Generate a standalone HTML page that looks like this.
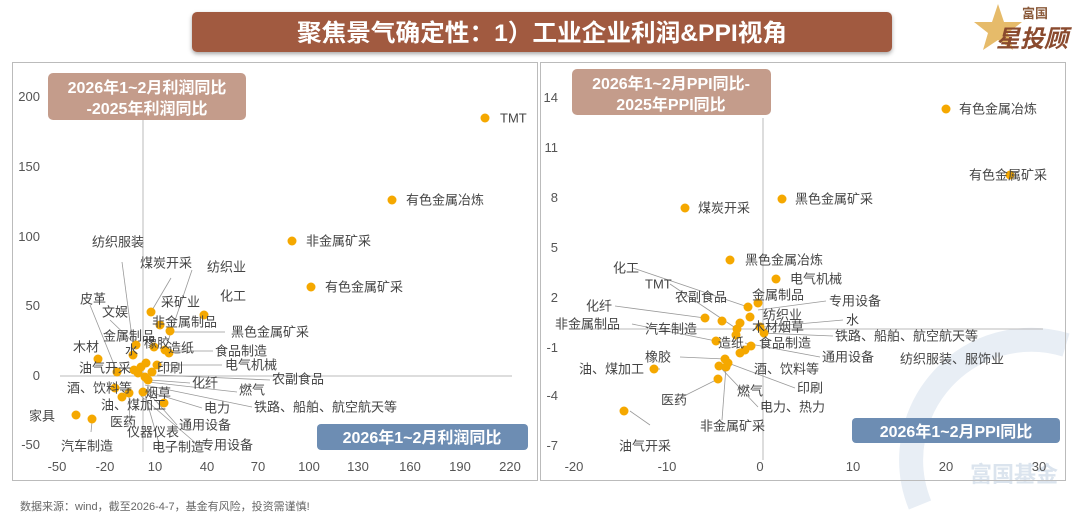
<!DOCTYPE html>
<html><head><meta charset="utf-8"><style>
html,body{margin:0;padding:0;background:#fff;width:1080px;height:517px;overflow:hidden;font-family:"Liberation Sans","Noto Sans CJK SC",sans-serif}
svg{display:block}
</style></head><body>
<svg width="1080" height="517" viewBox="0 0 1080 517" xmlns="http://www.w3.org/2000/svg" font-family="Liberation Sans, Noto Sans CJK SC, sans-serif" overflow="hidden">
<defs><filter id="sh" x="-5%" y="-20%" width="110%" height="160%"><feDropShadow dx="0" dy="2" stdDeviation="2" flood-color="#000" flood-opacity="0.35"/></filter></defs>
<rect x="192" y="12" width="700" height="40" rx="5" fill="#a15a40" filter="url(#sh)"/>
<text x="542" y="41" text-anchor="middle" font-size="24" font-weight="bold" fill="#fff" textLength="490" lengthAdjust="spacingAndGlyphs">聚焦景气确定性：1）工业企业利润&amp;PPI视角</text>
<polygon points="998,4 1004,22 1022,22 1008,33 1013,50 998,40 983,50 988,33 974,22 992,22" fill="#e3b45a" opacity="0.9"/>
<text x="1022" y="18" font-size="13" font-weight="bold" fill="#8a5a3a">富国</text>
<text x="996" y="47" font-size="24" font-weight="bold" fill="#8a4a2e" font-style="italic">星投顾</text>
<path d="M920,505 A120,120 0 0 1 1066,345" fill="none" stroke="#e8eef5" stroke-width="24"/>
<text x="970" y="482" font-size="22" font-weight="bold" fill="#dbe4ee">富国基金</text>
<rect x="12.5" y="62.5" width="525" height="418" fill="none" stroke="#bbb"/>
<rect x="540.5" y="62.5" width="525" height="418" fill="none" stroke="#bbb"/>
<g font-size="13" fill="#555">
<text x="40" y="101" text-anchor="end">200</text><text x="40" y="171" text-anchor="end">150</text>
<text x="40" y="241" text-anchor="end">100</text><text x="40" y="310" text-anchor="end">50</text>
<text x="40" y="380" text-anchor="end">0</text><text x="40" y="449" text-anchor="end">-50</text>
<g text-anchor="middle"><text x="57" y="471">-50</text><text x="105" y="471">-20</text><text x="155" y="471">10</text><text x="207" y="471">40</text><text x="258" y="471">70</text><text x="309" y="471">100</text><text x="358" y="471">130</text><text x="410" y="471">160</text><text x="460" y="471">190</text><text x="510" y="471">220</text></g>
<g text-anchor="end"><text x="558" y="102">14</text><text x="558" y="152">11</text><text x="558" y="202">8</text><text x="558" y="252">5</text><text x="558" y="302">2</text><text x="558" y="352">-1</text><text x="558" y="400">-4</text><text x="558" y="450">-7</text></g>
<g text-anchor="middle"><text x="574" y="471">-20</text><text x="667" y="471">-10</text><text x="760" y="471">0</text><text x="853" y="471">10</text><text x="946" y="471">20</text><text x="1039" y="471">30</text></g>
</g>
<g stroke="#bbb" stroke-width="1">
<line x1="143" y1="120" x2="143" y2="452"/><line x1="60" y1="376" x2="512" y2="376"/>
<line x1="763" y1="118" x2="763" y2="460"/><line x1="570" y1="329" x2="1043" y2="329"/>
</g>
<g stroke="#999" stroke-width="0.8" fill="none">
<path d="M122,262 L133,345"/><path d="M171,278 L151,312"/><path d="M192,270 L165,350"/><path d="M90,305 L117,372"/><path d="M110,320 L136,345"/>
<path d="M172,332 L225,332"/><path d="M175,351 L213,351"/><path d="M160,365 L222,365"/><path d="M157,375 L270,380"/><path d="M150,380 L190,383"/><path d="M148,382 L237,392"/>
<path d="M145,385 L252,407"/><path d="M143,390 L202,408"/><path d="M148,392 L177,425"/><path d="M145,395 L160,447"/><path d="M141,396 L198,445"/><path d="M92,422 L91,432"/><path d="M129,395 L130,425"/>
<path d="M633,268 L748,307"/><path d="M670,284 L737,329"/><path d="M615,306 L705,318"/><path d="M632,324 L716,341"/><path d="M680,357 L725,359"/><path d="M630,411 L650,425"/>
<path d="M826,301 L758,310"/><path d="M843,320 L764,327"/><path d="M833,336 L760,333"/><path d="M820,357 L745,343"/><path d="M795,388 L728,363"/><path d="M758,407 L719,366"/><path d="M676,400 L718,379"/><path d="M722,420 L726,367"/><path d="M660,369 L654,369"/>
</g>
<g fill="#f5a800">
<circle cx="485" cy="118" r="4.5"/><circle cx="392" cy="200" r="4.5"/><circle cx="292" cy="241" r="4.5"/><circle cx="311" cy="287" r="4.5"/>
<circle cx="151" cy="312" r="4.5"/><circle cx="204" cy="315" r="4.5"/><circle cx="160" cy="325" r="4.5"/><circle cx="170" cy="331" r="4.5"/><circle cx="136" cy="345" r="4.5"/><circle cx="133" cy="355" r="4.5"/><circle cx="154" cy="347" r="4.5"/><circle cx="165" cy="350" r="4.5"/><circle cx="169" cy="353" r="4.5"/><circle cx="98" cy="359" r="4.5"/><circle cx="117" cy="372" r="4.5"/><circle cx="141" cy="367" r="4.5"/><circle cx="146" cy="363" r="4.5"/><circle cx="157" cy="365" r="4.5"/><circle cx="138" cy="373" r="4.5"/><circle cx="145" cy="377" r="4.5"/><circle cx="148" cy="380" r="4.5"/><circle cx="134" cy="370" r="4.5"/><circle cx="152" cy="372" r="4.5"/><circle cx="115" cy="388" r="4.5"/><circle cx="122" cy="397" r="4.5"/><circle cx="129" cy="393" r="4.5"/><circle cx="143" cy="392" r="4.5"/><circle cx="164" cy="403" r="4.5"/><circle cx="76" cy="415" r="4.5"/><circle cx="92" cy="419" r="4.5"/>
<circle cx="946" cy="109" r="4.5"/><circle cx="1010" cy="175" r="4.5"/><circle cx="782" cy="199" r="4.5"/><circle cx="685" cy="208" r="4.5"/><circle cx="730" cy="260" r="4.5"/><circle cx="776" cy="279" r="4.5"/>
<circle cx="758" cy="303" r="4.5"/><circle cx="748" cy="307" r="4.5"/><circle cx="705" cy="318" r="4.5"/><circle cx="722" cy="321" r="4.5"/><circle cx="750" cy="317" r="4.5"/><circle cx="740" cy="323" r="4.5"/><circle cx="737" cy="329" r="4.5"/><circle cx="760" cy="327" r="4.5"/><circle cx="764" cy="333" r="4.5"/><circle cx="736" cy="335" r="4.5"/><circle cx="716" cy="341" r="4.5"/><circle cx="751" cy="346" r="4.5"/><circle cx="745" cy="350" r="4.5"/><circle cx="740" cy="353" r="4.5"/><circle cx="725" cy="359" r="4.5"/><circle cx="654" cy="369" r="4.5"/><circle cx="728" cy="363" r="4.5"/><circle cx="719" cy="366" r="4.5"/><circle cx="726" cy="367" r="4.5"/><circle cx="718" cy="379" r="4.5"/><circle cx="624" cy="411" r="4.5"/>
</g>
<g font-size="13" fill="#444" dominant-baseline="central">
<text x="500" y="118">TMT</text><text x="406" y="200">有色金属冶炼</text><text x="306" y="241">非金属矿采</text><text x="325" y="287">有色金属矿采</text>
<text x="92" y="242">纺织服装</text><text x="140" y="263">煤炭开采</text><text x="207" y="267">纺织业</text><text x="220" y="296">化工</text><text x="80" y="299">皮革</text><text x="102" y="312">文娱</text><text x="161" y="302">采矿业</text><text x="152" y="322">非金属制品</text><text x="231" y="332">黑色金属矿采</text><text x="103" y="336">金属制品</text><text x="73" y="347">木材</text><text x="125" y="350">水</text><text x="144" y="343">橡胶</text><text x="168" y="348">造纸</text><text x="215" y="351">食品制造</text><text x="79" y="368">油气开采</text><text x="157" y="368">印刷</text><text x="225" y="365">电气机械</text><text x="272" y="379">农副食品</text><text x="192" y="383">化纤</text><text x="239" y="390">燃气</text><text x="67" y="388">酒、饮料等</text><text x="145" y="393">烟草</text><text x="101" y="405">油、煤加工</text><text x="204" y="408">电力</text><text x="254" y="407">铁路、船舶、航空航天等</text><text x="29" y="416">家具</text><text x="110" y="422">医药</text><text x="127" y="432">仪器仪表</text><text x="179" y="425">通用设备</text><text x="61" y="446">汽车制造</text><text x="152" y="447">电子制造</text><text x="201" y="445">专用设备</text>
<text x="959" y="109">有色金属冶炼</text><text x="969" y="175">有色金属矿采</text><text x="795" y="199">黑色金属矿采</text><text x="698" y="208">煤炭开采</text><text x="745" y="260">黑色金属冶炼</text><text x="790" y="279">电气机械</text><text x="613" y="268">化工</text><text x="645" y="284">TMT</text><text x="675" y="297">农副食品</text><text x="752" y="295">金属制品</text><text x="829" y="301">专用设备</text><text x="586" y="306">化纤</text><text x="763" y="315">纺织业</text><text x="846" y="320">水</text><text x="555" y="324">非金属制品</text><text x="645" y="329">汽车制造</text><text x="752" y="327">木材烟草</text><text x="835" y="336">铁路、船舶、航空航天等</text><text x="718" y="343">造纸</text><text x="759" y="343">食品制造</text><text x="822" y="357">通用设备</text><text x="900" y="359">纺织服装、服饰业</text><text x="645" y="357">橡胶</text><text x="579" y="369">油、煤加工</text><text x="754" y="369">酒、饮料等</text><text x="797" y="388">印刷</text><text x="737" y="391">燃气</text><text x="661" y="400">医药</text><text x="760" y="407">电力、热力</text><text x="700" y="426">非金属矿采</text><text x="619" y="446">油气开采</text>
</g>
<rect x="48" y="73" width="198" height="47" rx="5" fill="#c49c8b"/>
<text x="147" y="93" text-anchor="middle" font-size="16" font-weight="bold" fill="#fff">2026年1~2月利润同比</text>
<text x="147" y="114" text-anchor="middle" font-size="16" font-weight="bold" fill="#fff">-2025年利润同比</text>
<rect x="317" y="424" width="211" height="26" rx="4" fill="#6d8db3"/>
<text x="422" y="443" text-anchor="middle" font-size="16" font-weight="bold" fill="#fff">2026年1~2月利润同比</text>
<rect x="572" y="69" width="199" height="46" rx="5" fill="#c49c8b"/>
<text x="671" y="89" text-anchor="middle" font-size="16" font-weight="bold" fill="#fff">2026年1~2月PPI同比-</text>
<text x="671" y="110" text-anchor="middle" font-size="16" font-weight="bold" fill="#fff">2025年PPI同比</text>
<rect x="852" y="418" width="208" height="25" rx="4" fill="#6d8db3"/>
<text x="956" y="437" text-anchor="middle" font-size="16" font-weight="bold" fill="#fff">2026年1~2月PPI同比</text>
<text x="20" y="510" font-size="11" fill="#666">数据来源：wind，截至2026-4-7，基金有风险，投资需谨慎!</text>
</svg>
</body></html>
